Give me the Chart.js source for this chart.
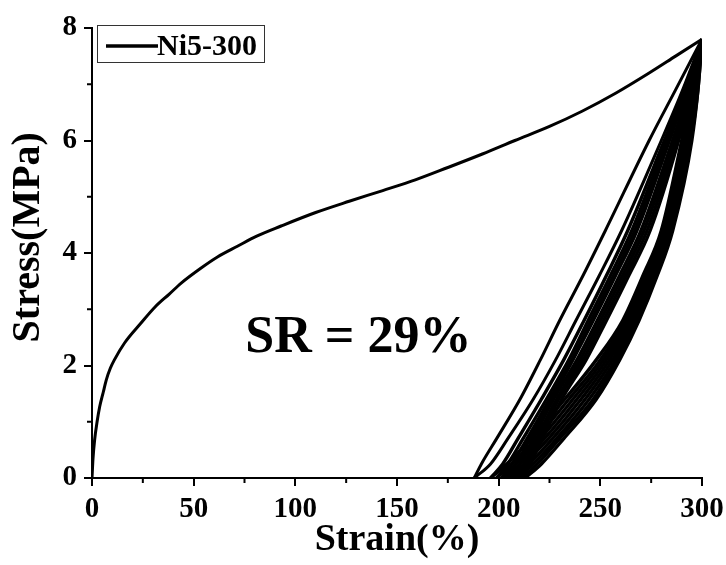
<!DOCTYPE html>
<html>
<head>
<meta charset="utf-8">
<script src="https://cdn.jsdelivr.net/npm/chart.js@4.4.1/dist/chart.umd.min.js"></script>
<style>
  html, body { margin: 0; padding: 0; background: #fff; }
  canvas { display: block; }
</style>
</head>
<body>
<canvas id="ssChart" width="726" height="565"></canvas>
<script>
// first loading run, 0 -> 300 %
const loadStrain = [0, 0.5, 1.3, 2.5, 3.8, 5.5, 7, 9, 11, 16, 24, 31, 38, 44, 53.5, 61.7, 71.5, 81, 93, 110, 126.5, 143, 159, 175, 192, 208, 225, 241, 257.5, 274, 287, 300];
const loadStress = [0, 0.35, 0.68, 1.0, 1.27, 1.52, 1.74, 1.95, 2.1, 2.4, 2.75, 3.04, 3.27, 3.47, 3.73, 3.93, 4.12, 4.3, 4.48, 4.72, 4.92, 5.11, 5.3, 5.52, 5.76, 6.0, 6.25, 6.52, 6.84, 7.2, 7.5, 7.8];

// stress levels shared by the unloading / reloading branches
const cycleStress = [0, 0.25, 0.7, 1.4, 2.1, 2.8, 3.6, 4.4, 6.0, 6.9, 7.8];

// unloading branches, strain at each cycleStress level (cycles 1..10)
const unloadStrain = [
  [188, 191.5, 199, 210.5, 220.5, 230, 241.5, 252.5, 274, 287, 300],
  [196, 204, 216, 232.5, 248, 261, 271, 280, 290, 295, 300],
  [199, 206.5, 218.5, 234.5, 250, 262, 272, 281, 290.5, 295.5, 300],
  [201.5, 208.5, 220.5, 236.5, 251.5, 263, 273, 281.5, 291, 296, 300],
  [203.5, 210.5, 222.5, 238.5, 253, 264, 274, 282.5, 292, 296.5, 300],
  [205.5, 212.5, 224.5, 240.5, 254.5, 265, 275, 283, 292.5, 296.5, 300],
  [207.5, 215, 226.5, 242.5, 256, 266, 276, 284, 293.5, 297, 300],
  [209.5, 217, 228.5, 244.5, 257.5, 267, 277, 284.5, 294, 297.5, 300],
  [211.5, 219, 230, 246.5, 258.5, 268, 277.5, 285, 294.5, 298, 300],
  [213, 221, 232, 248, 259.5, 269, 278, 285.6, 295, 298, 300]
];

// reloading branches (cycles 2..10), each starting from the previous residual strain
const reloadStrain = [
  [188, 196, 204.5, 217, 228, 238, 249.5, 260.5, 280, 290.5, 300],
  [196, 202, 209.5, 221, 232, 242, 253, 263.5, 281.5, 291.5, 300],
  [199, 204.5, 212, 223.5, 234.5, 244, 255, 265.5, 282.5, 292, 300],
  [201.5, 206.5, 214, 225, 236, 245.5, 256.5, 267, 283.5, 292.5, 300],
  [203.5, 208.5, 215.5, 226, 236.5, 246.5, 257.5, 268, 284, 292.5, 300],
  [205.5, 210.5, 217, 227, 238.5, 248.5, 259.5, 270, 285.5, 293.5, 300],
  [207.5, 212.5, 218.5, 228.5, 240, 250, 261, 271.5, 286.5, 294, 300],
  [209.5, 214, 220, 229.5, 241.5, 251.5, 262.5, 273, 287.5, 294.5, 300],
  [211.5, 215.5, 221.5, 231, 243, 253, 264, 274.5, 288.5, 295, 300]
];

const xTicks = [0, 50, 100, 150, 200, 250, 300];
const yTicks = [0, 2, 4, 6, 8];
const xMinor = [25, 75, 125, 175, 225, 275];
const yMinor = [1, 3, 5, 7];

const serif = "'Liberation Serif', 'Times New Roman', serif";
Chart.defaults.color = '#000';

function branch(strains) {
  return strains.map((s, i) => ({x: s, y: cycleStress[i]}));
}

// load -> unload 1 -> reload 2 -> unload 2 -> ... -> unload 10
const curves = [loadStrain.map((s, i) => ({x: s, y: loadStress[i]}))];
unloadStrain.forEach((u, i) => {
  curves.push(branch(u).reverse());
  if (reloadStrain[i]) curves.push(branch(reloadStrain[i]));
});

const datasets = curves.map((pts, i) => ({
  label: 'Ni5-300',
  data: pts,
  showLine: true,
  borderColor: '#000',
  borderWidth: i < 3 ? 3 : 3.4,
  pointRadius: 0,
  cubicInterpolationMode: 'monotone',
  fill: false
}));

// short minor ticks between labelled ones
const minorTicks = {
  id: 'minorTicks',
  afterDraw(chart) {
    const {ctx, scales: {x, y}} = chart;
    ctx.save();
    ctx.strokeStyle = '#000';
    ctx.lineWidth = 2;
    ctx.beginPath();
    xMinor.forEach(v => {
      const px = x.getPixelForValue(v);
      ctx.moveTo(px, x.top);
      ctx.lineTo(px, x.top + 5);
    });
    yMinor.forEach(v => {
      const py = y.getPixelForValue(v);
      ctx.moveTo(y.right, py);
      ctx.lineTo(y.right - 5, py);
    });
    ctx.stroke();
    ctx.restore();
  }
};

// boxed legend, y-axis title and the SR note
const notes = {
  id: 'notes',
  afterDraw(chart) {
    const {ctx, chartArea: area, scales: {x, y}} = chart;
    ctx.save();
    const bx = area.left + 5, by = area.top - 3;
    ctx.fillStyle = '#fff';
    ctx.fillRect(bx, by, 167, 37);
    ctx.strokeStyle = '#333';
    ctx.lineWidth = 1;
    ctx.strokeRect(bx + 0.5, by + 0.5, 167, 37);
    ctx.strokeStyle = '#000';
    ctx.lineWidth = 3.5;
    ctx.beginPath();
    ctx.moveTo(bx + 9, by + 21);
    ctx.lineTo(bx + 61, by + 21);
    ctx.stroke();
    ctx.fillStyle = '#000';
    ctx.font = 'bold 30px ' + serif;
    ctx.textBaseline = 'alphabetic';
    ctx.fillText(chart.data.datasets[0].label, bx + 60, by + 30);

    ctx.font = 'bold 52px ' + serif;
    ctx.textAlign = 'center';
    ctx.fillText('SR = 29%', x.getPixelForValue(131), y.getPixelForValue(2.24));

    // y title sits a little above the middle of the axis
    ctx.translate(29, y.getPixelForValue(4.28));
    ctx.rotate(-Math.PI / 2);
    ctx.font = 'bold 40px ' + serif;
    ctx.textBaseline = 'middle';
    ctx.fillText('Stress(MPa)', 0, 0);
    ctx.restore();
  }
};

new Chart(document.getElementById('ssChart'), {
  type: 'scatter',
  data: { datasets },
  options: {
    responsive: false,
    animation: false,
    layout: { padding: { top: 28, right: 24, left: 0, bottom: 0 } },
    plugins: {
      legend: { display: false },
      tooltip: { enabled: false }
    },
    scales: {
      x: {
        type: 'linear',
        min: 0,
        max: 300,
        afterBuildTicks: s => { s.ticks = xTicks.map(v => ({value: v})); },
        afterFit: s => {
          s.height = 87;
          // keep the plot edge fixed; the last label may hang into the margin
          s.paddingLeft = 0;
          s.paddingRight = 0;
        },
        border: { color: '#000', width: 2 },
        grid: { drawOnChartArea: false, color: '#000', lineWidth: 2, tickLength: 8 },
        ticks: { padding: 6, maxRotation: 0, font: { family: serif, size: 29, weight: 'bold' } },
        title: {
          display: true,
          text: 'Strain(%)',
          padding: { top: 0, bottom: 2 },
          font: { family: serif, size: 38, weight: 'bold' }
        }
      },
      y: {
        type: 'linear',
        min: 0,
        max: 8,
        afterBuildTicks: s => { s.ticks = yTicks.map(v => ({value: v})); },
        afterFit: s => { s.width = 92; },
        border: { color: '#000', width: 2 },
        grid: { drawOnChartArea: false, color: '#000', lineWidth: 2, tickLength: 8 },
        ticks: { padding: 7, font: { family: serif, size: 29, weight: 'bold' } }
      }
    }
  },
  plugins: [minorTicks, notes]
});
</script>
</body>
</html>
